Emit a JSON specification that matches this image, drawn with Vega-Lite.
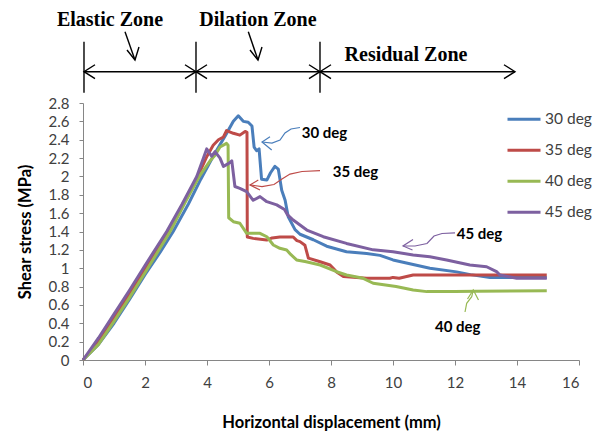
{
  "$schema": "https://vega.github.io/schema/vega-lite/v6.json",
  "autosize": "none",
  "width": 496,
  "height": 257,
  "padding": {"left": 83, "top": 103, "right": 19, "bottom": 71},
  "background": "white",
  "config": {
    "view": {"stroke": null},
    "font": "Lato",
    "axis": {
      "grid": false,
      "domainColor": "#868686",
      "tickColor": "#868686",
      "labelColor": "#404040",
      "labelFont": "Lato",
      "labelFontSize": 15,
      "titleFont": "Lato",
      "titleFontSize": 16.5,
      "titleFontWeight": "bold",
      "titleColor": "#000000"
    }
  },
  "datasets": {
    "curves": [
      {"series": "30 deg", "x": 0, "y": 0}, {"series": "30 deg", "x": 0.5, "y": 0.17}, {"series": "30 deg", "x": 1, "y": 0.4},
      {"series": "30 deg", "x": 1.5, "y": 0.66}, {"series": "30 deg", "x": 2, "y": 0.93}, {"series": "30 deg", "x": 2.5, "y": 1.18},
      {"series": "30 deg", "x": 2.91, "y": 1.4}, {"series": "30 deg", "x": 3.4, "y": 1.7}, {"series": "30 deg", "x": 3.8, "y": 1.97},
      {"series": "30 deg", "x": 4.2, "y": 2.22}, {"series": "30 deg", "x": 4.6, "y": 2.45}, {"series": "30 deg", "x": 4.85, "y": 2.6},
      {"series": "30 deg", "x": 5.01, "y": 2.66}, {"series": "30 deg", "x": 5.17, "y": 2.6}, {"series": "30 deg", "x": 5.33, "y": 2.59},
      {"series": "30 deg", "x": 5.45, "y": 2.55}, {"series": "30 deg", "x": 5.52, "y": 2.32}, {"series": "30 deg", "x": 5.6, "y": 2.28},
      {"series": "30 deg", "x": 5.68, "y": 2.3}, {"series": "30 deg", "x": 5.76, "y": 1.97}, {"series": "30 deg", "x": 5.93, "y": 1.96},
      {"series": "30 deg", "x": 6.05, "y": 2.04}, {"series": "30 deg", "x": 6.19, "y": 2.11}, {"series": "30 deg", "x": 6.3, "y": 2.08},
      {"series": "30 deg", "x": 6.41, "y": 1.85}, {"series": "30 deg", "x": 6.52, "y": 1.74}, {"series": "30 deg", "x": 6.62, "y": 1.56},
      {"series": "30 deg", "x": 6.84, "y": 1.42}, {"series": "30 deg", "x": 7.0, "y": 1.37}, {"series": "30 deg", "x": 7.43, "y": 1.31},
      {"series": "30 deg", "x": 7.86, "y": 1.24}, {"series": "30 deg", "x": 8.5, "y": 1.18}, {"series": "30 deg", "x": 9.15, "y": 1.16},
      {"series": "30 deg", "x": 9.58, "y": 1.14}, {"series": "30 deg", "x": 10.0, "y": 1.09}, {"series": "30 deg", "x": 10.65, "y": 1.04},
      {"series": "30 deg", "x": 11.19, "y": 1.0}, {"series": "30 deg", "x": 12.05, "y": 0.96}, {"series": "30 deg", "x": 12.5, "y": 0.93},
      {"series": "30 deg", "x": 13.13, "y": 0.9}, {"series": "30 deg", "x": 14.0, "y": 0.9}, {"series": "30 deg", "x": 14.96, "y": 0.9},

      {"series": "35 deg", "x": 0, "y": 0}, {"series": "35 deg", "x": 0.5, "y": 0.2}, {"series": "35 deg", "x": 1, "y": 0.46},
      {"series": "35 deg", "x": 1.5, "y": 0.72}, {"series": "35 deg", "x": 2, "y": 0.99}, {"series": "35 deg", "x": 2.75, "y": 1.4},
      {"series": "35 deg", "x": 3.25, "y": 1.72}, {"series": "35 deg", "x": 3.7, "y": 2.0}, {"series": "35 deg", "x": 4.0, "y": 2.22},
      {"series": "35 deg", "x": 4.2, "y": 2.34}, {"series": "35 deg", "x": 4.37, "y": 2.4}, {"series": "35 deg", "x": 4.53, "y": 2.43},
      {"series": "35 deg", "x": 4.63, "y": 2.5}, {"series": "35 deg", "x": 4.85, "y": 2.47}, {"series": "35 deg", "x": 5.06, "y": 2.45},
      {"series": "35 deg", "x": 5.23, "y": 2.49}, {"series": "35 deg", "x": 5.29, "y": 2.48}, {"series": "35 deg", "x": 5.3, "y": 1.34},
      {"series": "35 deg", "x": 5.49, "y": 1.325}, {"series": "35 deg", "x": 5.93, "y": 1.307}, {"series": "35 deg", "x": 6.1, "y": 1.33},
      {"series": "35 deg", "x": 6.35, "y": 1.34}, {"series": "35 deg", "x": 6.78, "y": 1.34}, {"series": "35 deg", "x": 6.9, "y": 1.3},
      {"series": "35 deg", "x": 7.0, "y": 1.29}, {"series": "35 deg", "x": 7.16, "y": 1.25}, {"series": "35 deg", "x": 7.27, "y": 1.11},
      {"series": "35 deg", "x": 7.65, "y": 1.07}, {"series": "35 deg", "x": 7.97, "y": 1.035}, {"series": "35 deg", "x": 8.18, "y": 0.96},
      {"series": "35 deg", "x": 8.4, "y": 0.91}, {"series": "35 deg", "x": 9.15, "y": 0.89}, {"series": "35 deg", "x": 9.9, "y": 0.89},
      {"series": "35 deg", "x": 10.0, "y": 0.9}, {"series": "35 deg", "x": 10.2, "y": 0.89}, {"series": "35 deg", "x": 10.44, "y": 0.91},
      {"series": "35 deg", "x": 10.65, "y": 0.926}, {"series": "35 deg", "x": 12.0, "y": 0.926}, {"series": "35 deg", "x": 14.96, "y": 0.926},

      {"series": "40 deg", "x": 0, "y": 0}, {"series": "40 deg", "x": 0.5, "y": 0.17}, {"series": "40 deg", "x": 1, "y": 0.42},
      {"series": "40 deg", "x": 1.5, "y": 0.68}, {"series": "40 deg", "x": 2, "y": 0.95}, {"series": "40 deg", "x": 2.81, "y": 1.4},
      {"series": "40 deg", "x": 3.3, "y": 1.72}, {"series": "40 deg", "x": 3.75, "y": 2.0}, {"series": "40 deg", "x": 4.1, "y": 2.17},
      {"series": "40 deg", "x": 4.26, "y": 2.23}, {"series": "40 deg", "x": 4.42, "y": 2.32}, {"series": "40 deg", "x": 4.63, "y": 2.36},
      {"series": "40 deg", "x": 4.68, "y": 2.34}, {"series": "40 deg", "x": 4.7, "y": 1.55}, {"series": "40 deg", "x": 4.85, "y": 1.507},
      {"series": "40 deg", "x": 5.06, "y": 1.49}, {"series": "40 deg", "x": 5.2, "y": 1.42}, {"series": "40 deg", "x": 5.28, "y": 1.38},
      {"series": "40 deg", "x": 5.71, "y": 1.38}, {"series": "40 deg", "x": 5.93, "y": 1.343}, {"series": "40 deg", "x": 6.14, "y": 1.253},
      {"series": "40 deg", "x": 6.35, "y": 1.217}, {"series": "40 deg", "x": 6.57, "y": 1.198}, {"series": "40 deg", "x": 6.7, "y": 1.15},
      {"series": "40 deg", "x": 6.89, "y": 1.09}, {"series": "40 deg", "x": 7.2, "y": 1.07}, {"series": "40 deg", "x": 7.65, "y": 1.035},
      {"series": "40 deg", "x": 8.18, "y": 0.962}, {"series": "40 deg", "x": 8.5, "y": 0.926}, {"series": "40 deg", "x": 9.04, "y": 0.89},
      {"series": "40 deg", "x": 9.36, "y": 0.836}, {"series": "40 deg", "x": 10.1, "y": 0.8}, {"series": "40 deg", "x": 10.65, "y": 0.763},
      {"series": "40 deg", "x": 11.09, "y": 0.745}, {"series": "40 deg", "x": 12.0, "y": 0.745}, {"series": "40 deg", "x": 12.7, "y": 0.75},
      {"series": "40 deg", "x": 14.96, "y": 0.755},

      {"series": "45 deg", "x": 0, "y": 0}, {"series": "45 deg", "x": 0.5, "y": 0.24}, {"series": "45 deg", "x": 1, "y": 0.5},
      {"series": "45 deg", "x": 1.5, "y": 0.76}, {"series": "45 deg", "x": 2, "y": 1.03}, {"series": "45 deg", "x": 2.7, "y": 1.4},
      {"series": "45 deg", "x": 3.2, "y": 1.7}, {"series": "45 deg", "x": 3.67, "y": 2.0}, {"series": "45 deg", "x": 3.99, "y": 2.3},
      {"series": "45 deg", "x": 4.15, "y": 2.22}, {"series": "45 deg", "x": 4.26, "y": 2.27}, {"series": "45 deg", "x": 4.42, "y": 2.2},
      {"series": "45 deg", "x": 4.53, "y": 2.11}, {"series": "45 deg", "x": 4.69, "y": 2.14}, {"series": "45 deg", "x": 4.8, "y": 2.17},
      {"series": "45 deg", "x": 4.9, "y": 1.89}, {"series": "45 deg", "x": 5.06, "y": 1.87}, {"series": "45 deg", "x": 5.28, "y": 1.834},
      {"series": "45 deg", "x": 5.49, "y": 1.74}, {"series": "45 deg", "x": 5.71, "y": 1.78}, {"series": "45 deg", "x": 5.93, "y": 1.725},
      {"series": "45 deg", "x": 6.25, "y": 1.69}, {"series": "45 deg", "x": 6.5, "y": 1.64}, {"series": "45 deg", "x": 6.6, "y": 1.58},
      {"series": "45 deg", "x": 6.78, "y": 1.525}, {"series": "45 deg", "x": 7.0, "y": 1.47}, {"series": "45 deg", "x": 7.22, "y": 1.416},
      {"series": "45 deg", "x": 7.75, "y": 1.343}, {"series": "45 deg", "x": 8.5, "y": 1.27}, {"series": "45 deg", "x": 9.36, "y": 1.2},
      {"series": "45 deg", "x": 10.0, "y": 1.18}, {"series": "45 deg", "x": 10.65, "y": 1.144}, {"series": "45 deg", "x": 11.19, "y": 1.125},
      {"series": "45 deg", "x": 11.73, "y": 1.09}, {"series": "45 deg", "x": 12.48, "y": 1.035}, {"series": "45 deg", "x": 13.02, "y": 1.016},
      {"series": "45 deg", "x": 13.34, "y": 0.962}, {"series": "45 deg", "x": 13.45, "y": 0.926}, {"series": "45 deg", "x": 13.99, "y": 0.89},
      {"series": "45 deg", "x": 14.96, "y": 0.89}
    ],
    "callouts": [
      {"series": "30 deg", "part": "c30", "k": 0, "x": 5.774, "y": 2.375}, {"series": "30 deg", "part": "c30", "k": 1, "x": 6.097, "y": 2.364},
      {"series": "30 deg", "part": "c30", "k": 2, "x": 6.355, "y": 2.397}, {"series": "30 deg", "part": "c30", "k": 3, "x": 6.516, "y": 2.473},
      {"series": "30 deg", "part": "c30", "k": 4, "x": 6.71, "y": 2.517}, {"series": "30 deg", "part": "c30", "k": 5, "x": 7.0, "y": 2.533},
      {"series": "30 deg", "part": "h30", "k": 0, "x": 6.032, "y": 2.433}, {"series": "30 deg", "part": "h30", "k": 1, "x": 5.774, "y": 2.375},
      {"series": "30 deg", "part": "h30", "k": 2, "x": 6.087, "y": 2.288},

      {"series": "35 deg", "part": "c35", "k": 0, "x": 5.387, "y": 1.907}, {"series": "35 deg", "part": "c35", "k": 1, "x": 5.774, "y": 1.89},
      {"series": "35 deg", "part": "c35", "k": 2, "x": 6.161, "y": 1.912}, {"series": "35 deg", "part": "c35", "k": 3, "x": 6.419, "y": 1.972},
      {"series": "35 deg", "part": "c35", "k": 4, "x": 6.677, "y": 2.026}, {"series": "35 deg", "part": "c35", "k": 5, "x": 7.065, "y": 2.054},
      {"series": "35 deg", "part": "c35", "k": 6, "x": 7.645, "y": 2.064},
      {"series": "35 deg", "part": "h35", "k": 0, "x": 5.655, "y": 1.961}, {"series": "35 deg", "part": "h35", "k": 1, "x": 5.387, "y": 1.907},
      {"series": "35 deg", "part": "h35", "k": 2, "x": 5.71, "y": 1.852},

      {"series": "40 deg", "part": "c40", "k": 0, "x": 12.323, "y": 0.523}, {"series": "40 deg", "part": "c40", "k": 1, "x": 12.377, "y": 0.618},
      {"series": "40 deg", "part": "c40", "k": 2, "x": 12.539, "y": 0.69}, {"series": "40 deg", "part": "c40", "k": 3, "x": 12.59, "y": 0.763},
      {"series": "40 deg", "part": "h40", "k": 0, "x": 12.403, "y": 0.665}, {"series": "40 deg", "part": "h40", "k": 1, "x": 12.59, "y": 0.763},
      {"series": "40 deg", "part": "h40", "k": 2, "x": 12.758, "y": 0.654},

      {"series": "45 deg", "part": "c45", "k": 0, "x": 10.323, "y": 1.242}, {"series": "45 deg", "part": "c45", "k": 1, "x": 10.71, "y": 1.242},
      {"series": "45 deg", "part": "c45", "k": 2, "x": 11.097, "y": 1.269}, {"series": "45 deg", "part": "c45", "k": 3, "x": 11.323, "y": 1.351},
      {"series": "45 deg", "part": "c45", "k": 4, "x": 11.581, "y": 1.378}, {"series": "45 deg", "part": "c45", "k": 5, "x": 12.0, "y": 1.384},
      {"series": "45 deg", "part": "h45", "k": 0, "x": 10.645, "y": 1.313}, {"series": "45 deg", "part": "h45", "k": 1, "x": 10.323, "y": 1.242},
      {"series": "45 deg", "part": "h45", "k": 2, "x": 10.629, "y": 1.198}
    ],
    "calloutText": [
      {"label": "30 deg", "x": 7.055, "y": 2.476},
      {"label": "35 deg", "x": 8.055, "y": 2.048},
      {"label": "45 deg", "x": 12.055, "y": 1.373},
      {"label": "40 deg", "x": 11.355, "y": 0.363}
    ],
    "zones": [
      {"part": "v1", "k": 0, "x": 0.032, "y": 3.468}, {"part": "v1", "k": 1, "x": 0.032, "y": 2.912},
      {"part": "v2", "k": 0, "x": 3.645, "y": 3.468}, {"part": "v2", "k": 1, "x": 3.645, "y": 2.912},
      {"part": "v3", "k": 0, "x": 7.645, "y": 3.468}, {"part": "v3", "k": 1, "x": 7.645, "y": 2.912},
      {"part": "h", "k": 0, "x": 0.032, "y": 3.141}, {"part": "h", "k": 1, "x": 13.935, "y": 3.141},
      {"part": "a1", "k": 0, "x": 0.387, "y": 3.217}, {"part": "a1", "k": 1, "x": 0.032, "y": 3.141}, {"part": "a1", "k": 2, "x": 0.387, "y": 3.065},
      {"part": "a2", "k": 0, "x": 3.29, "y": 3.217}, {"part": "a2", "k": 1, "x": 3.645, "y": 3.141}, {"part": "a2", "k": 2, "x": 3.29, "y": 3.065},
      {"part": "a3", "k": 0, "x": 4.0, "y": 3.217}, {"part": "a3", "k": 1, "x": 3.645, "y": 3.141}, {"part": "a3", "k": 2, "x": 4.0, "y": 3.065},
      {"part": "a4", "k": 0, "x": 7.29, "y": 3.217}, {"part": "a4", "k": 1, "x": 7.645, "y": 3.141}, {"part": "a4", "k": 2, "x": 7.29, "y": 3.065},
      {"part": "a5", "k": 0, "x": 8.0, "y": 3.217}, {"part": "a5", "k": 1, "x": 7.645, "y": 3.141}, {"part": "a5", "k": 2, "x": 8.0, "y": 3.065},
      {"part": "a6", "k": 0, "x": 13.58, "y": 3.217}, {"part": "a6", "k": 1, "x": 13.935, "y": 3.141}, {"part": "a6", "k": 2, "x": 13.58, "y": 3.065},
      {"part": "d1", "k": 0, "x": 1.355, "y": 3.577}, {"part": "d1", "k": 1, "x": 1.677, "y": 3.268},
      {"part": "d1h", "k": 0, "x": 1.419, "y": 3.377}, {"part": "d1h", "k": 1, "x": 1.677, "y": 3.268}, {"part": "d1h", "k": 2, "x": 1.806, "y": 3.41},
      {"part": "d2", "k": 0, "x": 5.332, "y": 3.577}, {"part": "d2", "k": 1, "x": 5.645, "y": 3.268},
      {"part": "d2h", "k": 0, "x": 5.387, "y": 3.377}, {"part": "d2h", "k": 1, "x": 5.645, "y": 3.268}, {"part": "d2h", "k": 2, "x": 5.774, "y": 3.41}
    ],
    "zoneText": [
      {"label": "Elastic Zone", "x": 0.871, "y": 3.639},
      {"label": "Dilation Zone", "x": 5.645, "y": 3.639},
      {"label": "Residual Zone", "x": 10.419, "y": 3.257}
    ]
  },
  "encoding": {
    "x": {
      "field": "x", "type": "quantitative",
      "scale": {"domain": [0, 16], "nice": false},
      "axis": {
        "title": "Horizontal displacement (mm)",
        "values": [0, 2, 4, 6, 8, 10, 12, 14, 16],
        "tickSize": 5, "labelPadding": 10, "titlePadding": 24
      }
    },
    "y": {
      "field": "y", "type": "quantitative",
      "scale": {"domain": [0, 2.8], "nice": false},
      "axis": {
        "title": "Shear stress (MPa)",
        "values": [0, 0.2, 0.4, 0.6, 0.8, 1, 1.2, 1.4, 1.6, 1.8, 2, 2.2, 2.4, 2.6, 2.8],
        "format": ".1~f",
        "tickSize": 4, "labelPadding": 10, "titlePadding": 15
      }
    }
  },
  "layer": [
    {
      "data": {"name": "curves"},
      "mark": {"type": "line", "strokeWidth": 3, "strokeJoin": "round"},
      "encoding": {
        "color": {
          "field": "series", "type": "nominal",
          "scale": {
            "domain": ["30 deg", "35 deg", "40 deg", "45 deg"],
            "range": ["#4A7EBB", "#BE4B48", "#98B954", "#7D60A0"]
          },
          "legend": {
            "title": null,
            "orient": "none",
            "legendX": 423,
            "legendY": 1,
            "padding": 0,
            "symbolType": "stroke",
            "symbolSize": 1089,
            "symbolStrokeWidth": 3,
            "labelFont": "Lato",
            "labelFontSize": 15.5,
            "labelColor": "#404040",
            "labelOffset": 3,
            "clipHeight": 30.7,
            "rowPadding": 0
          }
        }
      }
    },
    {
      "data": {"name": "callouts"},
      "mark": {"type": "line", "strokeWidth": 1.2},
      "encoding": {
        "color": {"field": "series", "type": "nominal", "legend": null},
        "detail": {"field": "part"},
        "order": {"field": "k", "type": "quantitative"}
      }
    },
    {
      "data": {"name": "calloutText"},
      "mark": {"type": "text", "align": "left", "baseline": "middle", "font": "Lato", "fontWeight": "bold", "fontSize": 15, "color": "#000000"},
      "encoding": {"text": {"field": "label"}}
    },
    {
      "data": {"name": "zones"},
      "mark": {"type": "line", "strokeWidth": 1.4, "color": "#000000"},
      "encoding": {
        "detail": {"field": "part"},
        "order": {"field": "k", "type": "quantitative"}
      }
    },
    {
      "data": {"name": "zoneText"},
      "mark": {"type": "text", "align": "center", "baseline": "alphabetic", "font": "Liberation Serif", "fontWeight": "bold", "fontSize": 20, "color": "#000000"},
      "encoding": {"text": {"field": "label"}}
    }
  ]
}
